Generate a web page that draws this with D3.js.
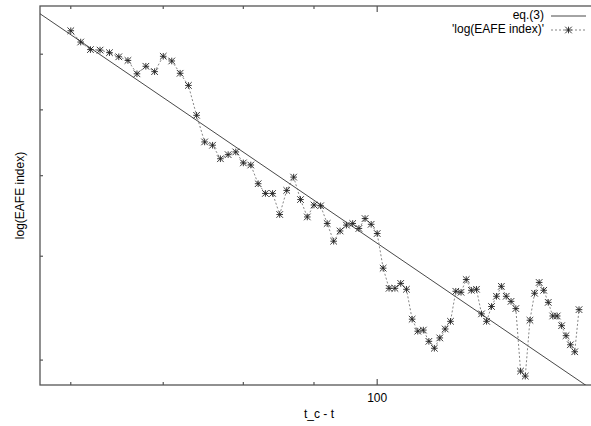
<!DOCTYPE html>
<html>
<head>
<meta charset="utf-8">
<script src="https://cdn.jsdelivr.net/npm/d3@7"></script>
<style>
  html, body { margin: 0; padding: 0; background: #fff; }
  svg { display: block; }
  text { font-family: "Liberation Sans", Arial, Helvetica, sans-serif; font-size: 12px; fill: #000; }
</style>
</head>
<body>
<svg id="chart" width="591" height="426"></svg>
<script>
// ---- data ----
const tcMinusT = [60,61,62,63,64,65,66,67,68,69,
  70,71,72,73,74,75,76,77,78,79,
  80,81,82,83,84,85,86,87,88,89,
  90,91,92,93,94,95,96,97,98,99,
  100,101,102,103,104,105,106,107,108,109,
  110,111,112,113,114,115,116,117,118,119,
  120,121,122,123,124,125,126,127,128,129,
  130,131,132,133,134,135,136,137,138,139,
  140];
const logEafe = [7.47,7.24,7.09,7.08,7.03,6.95,6.88,6.63,6.77,6.67,
  6.96,6.87,6.64,6.42,5.91,5.49,5.44,5.24,5.30,5.34,
  5.18,5.15,4.89,4.76,4.76,4.49,4.80,4.98,4.68,4.46,
  4.61,4.60,4.38,4.17,4.29,4.36,4.38,4.32,4.44,4.37,
  4.26,3.87,3.66,3.66,3.71,3.65,3.36,3.25,3.26,3.16,
  3.10,3.19,3.27,3.34,3.63,3.62,3.75,3.64,3.65,3.41,
  3.34,3.48,3.58,3.68,3.58,3.53,3.46,2.91,2.87,3.35,
  3.61,3.72,3.64,3.52,3.39,3.39,3.30,3.21,3.13,3.07,
  3.45];
// eq.(3): power law  y = A * x^(-m)
const eqA = 758;
const eqM = 1.131;
const xMinorTicks = [60, 70, 80, 90];
const xMajorTicks = [100];
const yTicks = [3, 4, 5, 6, 7];
const legendLabels = ["eq.(3)", "'log(EAFE index)'"];
const xTitle = "t_c - t";
const yTitle = "log(EAFE index)";

// ---- layout ----
const svg = d3.select("#chart");
const pLeft = 40, pRight = 598, pTop = 6, pBottom = 385;

const x = d3.scaleLog().domain([57, 144.5]).range([pLeft, pRight]);
const y = d3.scaleLog().domain([2.8, 8]).range([pBottom, pTop]);

svg.append("defs").append("clipPath").attr("id", "plotclip")
  .append("rect").attr("x", pLeft).attr("y", pTop)
  .attr("width", pRight - pLeft).attr("height", pBottom - pTop);

const axisColor = "#555";

// border
svg.append("rect")
  .attr("x", pLeft).attr("y", pTop)
  .attr("width", pRight - pLeft).attr("height", pBottom - pTop)
  .attr("fill", "none").attr("stroke", axisColor).attr("stroke-width", 1.3);

// x ticks (bottom & top)
const minorLen = 3, majorLen = 6;
function xTicks(vals, len) {
  svg.append("g").selectAll("line").data(vals).join("line")
    .attr("x1", d => x(d)).attr("x2", d => x(d))
    .attr("y1", pBottom).attr("y2", pBottom - len)
    .attr("stroke", axisColor).attr("stroke-width", 1.2);
  svg.append("g").selectAll("line").data(vals).join("line")
    .attr("x1", d => x(d)).attr("x2", d => x(d))
    .attr("y1", pTop).attr("y2", pTop + len)
    .attr("stroke", axisColor).attr("stroke-width", 1.2);
}
xTicks(xMinorTicks, minorLen);
xTicks(xMajorTicks, majorLen);

svg.append("g").selectAll("text").data(xMajorTicks).join("text")
  .attr("x", d => x(d)).attr("y", 402)
  .attr("text-anchor", "middle").text(d => d);

// y ticks
svg.append("g").selectAll("line").data(yTicks).join("line")
  .attr("x1", pLeft).attr("x2", pLeft + 3)
  .attr("y1", d => y(d)).attr("y2", d => y(d))
  .attr("stroke", axisColor).attr("stroke-width", 1.2);

// titles
svg.append("text").attr("x", 319).attr("y", 418)
  .attr("text-anchor", "middle").text(xTitle);
svg.append("text")
  .attr("transform", `translate(24, ${(pTop + pBottom) / 2}) rotate(-90)`)
  .attr("text-anchor", "middle").text(yTitle);

const plot = svg.append("g").attr("clip-path", "url(#plotclip)");

// eq.(3) line
const eqX = x.domain();
plot.append("path")
  .datum(eqX.map(v => [v, eqA * Math.pow(v, -eqM)]))
  .attr("d", d3.line().x(d => x(d[0])).y(d => y(d[1])))
  .attr("fill", "none").attr("stroke", "#333").attr("stroke-width", 0.9);

// data series
const pts = tcMinusT.map((t, i) => [t, logEafe[i]]);
plot.append("path")
  .datum(pts)
  .attr("d", d3.line().x(d => x(d[0])).y(d => y(d[1])))
  .attr("fill", "none").attr("stroke", "#777")
  .attr("stroke-width", 0.9).attr("stroke-dasharray", "2,2");

const r = 3.3;
function starPath(cx, cy) {
  return `M${cx - r},${cy}L${cx + r},${cy}M${cx},${cy - r}L${cx},${cy + r}` +
         `M${cx - r},${cy - r}L${cx + r},${cy + r}M${cx - r},${cy + r}L${cx + r},${cy - r}`;
}
plot.append("g").selectAll("path").data(pts).join("path")
  .attr("d", d => starPath(x(d[0]), y(d[1])))
  .attr("fill", "none").attr("stroke", "#222").attr("stroke-width", 0.9);

// legend
const lgTextX = 544, lgX1 = 551, lgX2 = 586;
const rows = [{base: 18.5, line: 16}, {base: 33, line: 30}];
legendLabels.forEach((lab, i) => {
  svg.append("text").attr("x", lgTextX).attr("y", rows[i].base)
    .attr("text-anchor", "end").text(lab);
});
svg.append("line").attr("x1", lgX1).attr("x2", lgX2)
  .attr("y1", rows[0].line).attr("y2", rows[0].line)
  .attr("stroke", "#333").attr("stroke-width", 0.9);
svg.append("line").attr("x1", lgX1).attr("x2", lgX2)
  .attr("y1", rows[1].line).attr("y2", rows[1].line)
  .attr("stroke", "#777").attr("stroke-width", 0.9).attr("stroke-dasharray", "2,2");
svg.append("path").attr("d", starPath((lgX1 + lgX2) / 2, rows[1].line))
  .attr("fill", "none").attr("stroke", "#222").attr("stroke-width", 0.9);
</script>
</body>
</html>
